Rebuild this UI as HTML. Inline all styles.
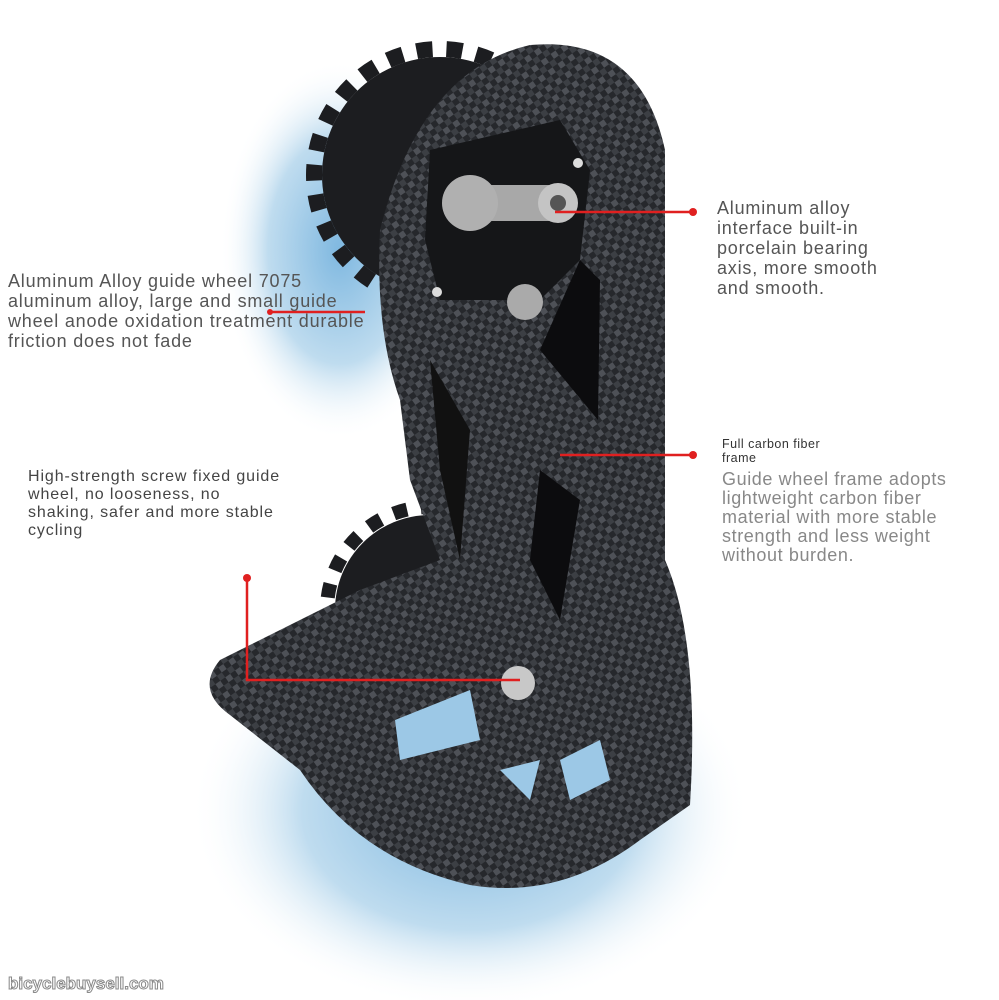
<!DOCTYPE html>
<html><head><meta charset="utf-8"><style>
html,body{margin:0;padding:0;background:#fff;}
#c{position:relative;width:999px;height:1000px;overflow:hidden;font-family:"Liberation Sans",sans-serif;}
.t{position:absolute;line-height:20px;font-size:18px;letter-spacing:0.8px;color:#555;white-space:nowrap;}
</style></head><body><div id="c">
<svg width="999" height="1000" style="position:absolute;left:0;top:0">
<defs>
<pattern id="cf" width="12" height="12" patternUnits="userSpaceOnUse" patternTransform="rotate(-35)">
<rect width="12" height="12" fill="#26282c"/>
<rect width="6" height="6" fill="#4e5157"/><rect x="6" y="6" width="6" height="6" fill="#3c3f44"/>
</pattern>
<radialGradient id="b1" cx="50%" cy="50%" r="50%"><stop offset="0" stop-color="#7fb8e0"/><stop offset="0.6" stop-color="#bfdcef"/><stop offset="1" stop-color="#fff" stop-opacity="0"/></radialGradient>
</defs>
<ellipse cx="340" cy="250" rx="120" ry="190" fill="url(#b1)"/>
<ellipse cx="470" cy="810" rx="280" ry="200" fill="url(#b1)"/>
<!-- gears -->
<circle cx="440" cy="175" r="118" fill="#1c1d20"/>
<circle cx="440" cy="175" r="126" fill="none" stroke="#1c1d20" stroke-width="16" stroke-dasharray="16 14"/>
<circle cx="430" cy="610" r="95" fill="#1c1d20"/>
<circle cx="430" cy="610" r="103" fill="none" stroke="#1c1d20" stroke-width="14" stroke-dasharray="14 14"/>
<!-- frame -->
<path d="M380,230 Q420,70 530,45 Q640,35 665,150 L665,560 Q700,640 690,805 L640,840 Q560,900 470,885 Q360,860 300,770 L230,715 Q195,690 220,660 L360,590 L440,560 L410,480 L400,400 Q375,330 380,230 Z" fill="url(#cf)"/>
<path d="M430,360 L440,470 L460,560 L470,430 Z" fill="#111"/>
<path d="M580,260 L600,280 L598,420 L540,350 Z" fill="#0c0c0e"/>
<path d="M540,470 L580,500 L560,620 L530,560 Z" fill="#0c0c0e"/>
<path d="M395,720 L470,690 L480,740 L400,760 Z" fill="#9cc8e6"/>
<path d="M500,770 L540,760 L530,800 Z" fill="#9cc8e6"/>
<path d="M560,760 L600,740 L610,780 L570,800 Z" fill="#9cc8e6"/>
<!-- hub plate -->
<path d="M430,150 L560,120 L590,170 L580,260 L540,300 L440,300 L425,240 Z" fill="#151618"/>
<rect x="470" y="185" width="90" height="36" rx="10" fill="#a8a8a8"/>
<circle cx="558" cy="203" r="20" fill="#c4c4c4"/><circle cx="558" cy="203" r="8" fill="#555"/>
<circle cx="470" cy="203" r="28" fill="#b0b0b0"/>
<circle cx="525" cy="302" r="18" fill="#aaa"/>
<circle cx="518" cy="683" r="17" fill="#c8c8c8"/>
<circle cx="437" cy="292" r="5" fill="#ddd"/><circle cx="578" cy="163" r="5" fill="#ddd"/>
<!-- red lines -->
<g stroke="#e02020" stroke-width="2.5" fill="none">
<line x1="555" y1="212" x2="693" y2="212"/>
<line x1="270" y1="312" x2="365" y2="312"/>
<line x1="560" y1="455" x2="693" y2="455"/>
<polyline points="247,578 247,680 520,680"/>
</g>
<g fill="#e02020"><circle cx="693" cy="212" r="4"/><circle cx="270" cy="312" r="3"/><circle cx="693" cy="455" r="4"/><circle cx="247" cy="578" r="4"/></g>
</svg>
<div class="t" style="left:717px;top:198px">Aluminum alloy<br>interface built-in<br>porcelain bearing<br>axis, more smooth<br>and smooth.</div>
<div class="t" style="left:8px;top:271px">Aluminum Alloy guide wheel 7075<br>aluminum alloy, large and small guide<br>wheel anode oxidation treatment durable<br>friction does not fade</div>
<div class="t" style="left:28px;top:468px;font-size:16px;letter-spacing:0.9px;line-height:18px;color:#444">High-strength screw fixed guide<br>wheel, no looseness, no<br>shaking, safer and more stable<br>cycling</div>
<div class="t" style="left:722px;top:437px;font-size:12.5px;letter-spacing:0.5px;line-height:14px;color:#333">Full carbon fiber<br>frame</div>
<div class="t" style="left:722px;top:470px;line-height:19px;letter-spacing:0.6px;color:#888">Guide wheel frame adopts<br>lightweight carbon fiber<br>material with more stable<br>strength and less weight<br>without burden.</div>
<div style="position:absolute;left:8px;top:974px;font-size:17px;font-weight:bold;color:#fff;-webkit-text-stroke:1px #888;font-family:'Liberation Sans',sans-serif">bicyclebuysell.com</div>
</div></body></html>
